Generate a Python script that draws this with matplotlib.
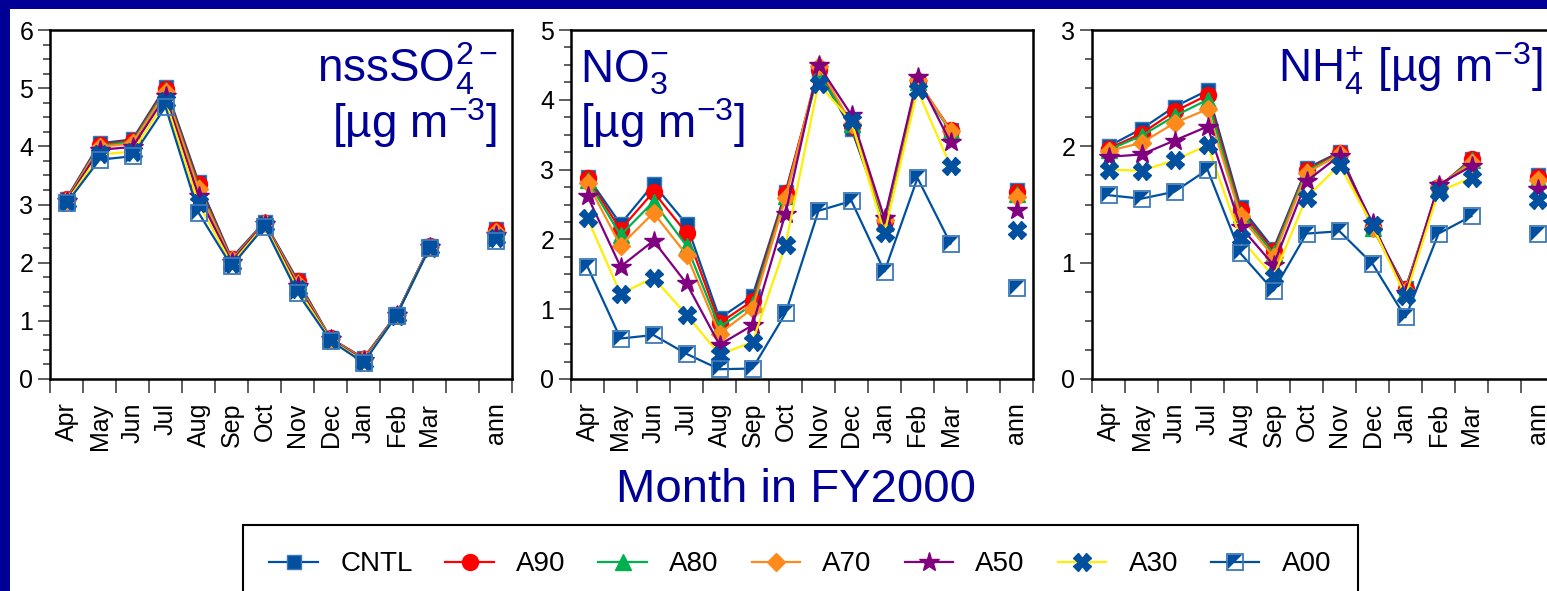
import matplotlib
matplotlib.use("Agg")
import matplotlib.pyplot as plt
from matplotlib.path import Path
from matplotlib.patches import Rectangle
from matplotlib.legend_handler import HandlerTuple
import numpy as np

plt.rcParams['font.family'] = ['Liberation Sans', 'DejaVu Sans']
plt.rcParams['mathtext.fontset'] = 'custom'
plt.rcParams['mathtext.rm'] = 'Liberation Sans'
plt.rcParams['mathtext.it'] = 'Liberation Sans'
plt.rcParams['mathtext.default'] = 'regular'

# data
months = ['Apr', 'May', 'Jun', 'Jul', 'Aug', 'Sep', 'Oct', 'Nov', 'Dec', 'Jan', 'Feb', 'Mar']
runs = ['CNTL', 'A90', 'A80', 'A70', 'A50', 'A30', 'A00']

so4 = {
    'CNTL': [3.10, 4.05, 4.12, 5.02, 3.39, 2.08, 2.70, 1.70, 0.70, 0.36, 1.11, 2.28, 2.58],
    'A90':  [3.09, 4.03, 4.10, 4.99, 3.35, 2.06, 2.69, 1.68, 0.70, 0.35, 1.10, 2.28, 2.57],
    'A80':  [3.08, 4.01, 4.08, 4.96, 3.30, 2.05, 2.68, 1.66, 0.69, 0.34, 1.10, 2.27, 2.54],
    'A70':  [3.07, 3.99, 4.05, 4.93, 3.26, 2.04, 2.68, 1.64, 0.69, 0.34, 1.10, 2.27, 2.52],
    'A50':  [3.06, 3.94, 3.99, 4.86, 3.15, 2.02, 2.67, 1.60, 0.68, 0.32, 1.10, 2.27, 2.48],
    'A30':  [3.04, 3.86, 3.91, 4.78, 3.02, 1.98, 2.65, 1.55, 0.67, 0.30, 1.09, 2.26, 2.43],
    'A00':  [3.02, 3.77, 3.83, 4.68, 2.86, 1.94, 2.62, 1.48, 0.66, 0.28, 1.09, 2.25, 2.38],
}
no3 = {
    'CNTL': [2.90, 2.22, 2.79, 2.22, 0.87, 1.19, 2.68, 4.40, 3.58, 2.25, 4.24, 3.57, 2.71],
    'A90':  [2.88, 2.14, 2.68, 2.09, 0.80, 1.12, 2.66, 4.43, 3.62, 2.26, 4.27, 3.57, 2.68],
    'A80':  [2.85, 2.06, 2.54, 1.91, 0.74, 1.07, 2.62, 4.38, 3.65, 2.24, 4.25, 3.55, 2.65],
    'A70':  [2.81, 1.91, 2.38, 1.78, 0.65, 1.01, 2.59, 4.48, 3.66, 2.28, 4.28, 3.56, 2.61],
    'A50':  [2.62, 1.61, 1.98, 1.37, 0.49, 0.77, 2.37, 4.50, 3.78, 2.30, 4.32, 3.39, 2.42],
    'A30':  [2.30, 1.22, 1.45, 0.92, 0.35, 0.53, 1.92, 4.23, 3.69, 2.09, 4.14, 3.05, 2.13],
    'A00':  [1.61, 0.58, 0.63, 0.36, 0.14, 0.15, 0.94, 2.41, 2.55, 1.54, 2.88, 1.94, 1.30],
}
nh4 = {
    'CNTL': [2.00, 2.15, 2.34, 2.48, 1.48, 1.12, 1.81, 1.95, 1.31, 0.78, 1.64, 1.89, 1.75],
    'A90':  [1.98, 2.11, 2.30, 2.44, 1.45, 1.10, 1.80, 1.94, 1.31, 0.77, 1.65, 1.89, 1.74],
    'A80':  [1.97, 2.09, 2.26, 2.40, 1.42, 1.08, 1.79, 1.93, 1.30, 0.76, 1.65, 1.88, 1.72],
    'A70':  [1.96, 2.03, 2.20, 2.32, 1.40, 1.05, 1.77, 1.93, 1.30, 0.76, 1.66, 1.86, 1.71],
    'A50':  [1.91, 1.93, 2.05, 2.17, 1.31, 0.98, 1.70, 1.92, 1.34, 0.74, 1.67, 1.83, 1.63],
    'A30':  [1.80, 1.79, 1.88, 2.01, 1.21, 0.88, 1.56, 1.84, 1.32, 0.71, 1.61, 1.73, 1.54],
    'A00':  [1.58, 1.55, 1.61, 1.80, 1.08, 0.76, 1.25, 1.27, 0.99, 0.53, 1.25, 1.40, 1.25],
}

navy = '#000096'
blue = '#00509f'
styles = {
    'CNTL': dict(color=blue, marker='s', ms=10.5, mfc=blue, mec='#3f78b8'),
    'A90':  dict(color='#ff0000', marker='o', ms=11.5, mfc='#ff0000', mec='#ff0000'),
    'A80':  dict(color='#00b04f', marker='^', ms=11.5, mfc='#00b04f', mec='#00b04f'),
    'A70':  dict(color='#ff8a1c', marker='D', ms=9.5, mfc='#ff8a1c', mec='#ff8a1c'),
    'A50':  dict(color='#80007f', marker='*', ms=15, mfc='#80007f', mec='#80007f'),
    'A30':  dict(color='#ffee00', marker='X', ms=12.5, mfc=blue, mec=blue),
}
# half filled square for A00: filled upper-left triangle + open square
tri = Path([(-1, -1), (-1, 1), (1, 1), (-1, -1)], [Path.MOVETO, Path.LINETO, Path.LINETO, Path.CLOSEPOLY])

fig = plt.figure(figsize=(15.47, 5.91), dpi=100, facecolor=navy)
fig.patches.append(Rectangle((10 / 1547, 0), 1, (591 - 9) / 591, transform=fig.transFigure,
                             facecolor='white', edgecolor='none', zorder=-5))

xpos = np.r_[np.arange(12) + 0.5, 13.5]
panels = [
    (so4, 6, 50, ['nssSO$_4^{2-}$', '[µg m$^{-3}$]'], 'right'),
    (no3, 5, 571, ['NO$_3^{-}$', '[µg m$^{-3}$]'], 'left'),
    (nh4, 3, 1092, ['NH$_4^{+}$ [µg m$^{-3}$]'], 'right'),
]

handles = {}
for data, ymax, left, title, side in panels:
    ax = fig.add_axes([left / 1547, (591 - 379) / 591, 462 / 1547, 349 / 591])
    for r in runs:
        v = np.array(data[r])
        if r == 'A00':
            l1, = ax.plot(xpos[:12], v[:12], color=blue, lw=1.6, marker=tri, ms=10.5,
                          mfc=blue, mec=blue, mew=0, zorder=3)
            ax.plot(xpos[12], v[12], color=blue, marker=tri, ms=10.5, mfc=blue, mew=0, zorder=3)
            l2, = ax.plot(xpos, v, ls='none', marker='s', ms=11, mfc='none', mec='#3f78b8',
                          mew=1.3, zorder=3)
            handles[r] = (l1, l2)
        else:
            st = styles[r]
            l1, = ax.plot(xpos[:12], v[:12], lw=1.6, zorder=3, **st)
            ax.plot(xpos[12], v[12], ls='none', zorder=3, **st)
            handles[r] = l1
    ax.set_xlim(0, 14)
    ax.set_ylim(0, ymax)
    ax.set_xticks(xpos)
    ax.set_xticklabels(months + ['ann'], rotation=90, va='top', ha='center', fontsize=18)
    ax.set_xticks(np.arange(15), minor=True)
    ax.tick_params(axis='x', which='major', length=0, pad=17)
    ax.tick_params(axis='x', which='minor', length=10, width=1.1, direction='out', color='#333333')
    ax.set_yticks(np.arange(ymax + 1))
    ax.set_yticks(np.arange(0, ymax + 0.01, 0.25), minor=True)
    ax.tick_params(axis='y', which='major', length=9, width=1.1, pad=3, labelsize=18, color='#333333')
    ax.tick_params(axis='y', which='minor', length=5, width=1.1, color='#333333')
    for s in ax.spines.values():
        s.set_linewidth(1.8)
    if side == 'right':
        xt = 0.968 if len(title) == 2 else 0.976
        ax.text(xt, 0.851, title[0], transform=ax.transAxes, ha='right', va='baseline',
                fontsize=33, color=navy)
        if len(title) == 2:
            ax.text(xt, 0.69, title[1], transform=ax.transAxes, ha='right', va='baseline',
                    fontsize=33, color=navy)
    else:
        ax.text(0.02, 0.851, title[0], transform=ax.transAxes, ha='left', va='baseline',
                fontsize=33, color=navy)
        ax.text(0.02, 0.69, title[1], transform=ax.transAxes, ha='left', va='baseline',
                fontsize=33, color=navy)

fig.text(796 / 1547, (591 - 490) / 591, 'Month in FY2000', ha='center', va='center',
         fontsize=34, color=navy)

leg = fig.legend([handles[r] for r in runs], runs, ncol=7, loc='upper left',
                 bbox_to_anchor=(243 / 1547, (591 - 525) / 591), bbox_transform=fig.transFigure,
                 borderaxespad=0, fontsize=20, handlelength=1.75, handletextpad=0.8,
                 columnspacing=1.18, borderpad=0.95, fancybox=False, framealpha=1,
                 edgecolor='black', handler_map={tuple: HandlerTuple(ndivide=1, pad=0)})
leg.get_frame().set_linewidth(1.5)

fig.savefig('out.png', dpi=100, facecolor=fig.get_facecolor())
